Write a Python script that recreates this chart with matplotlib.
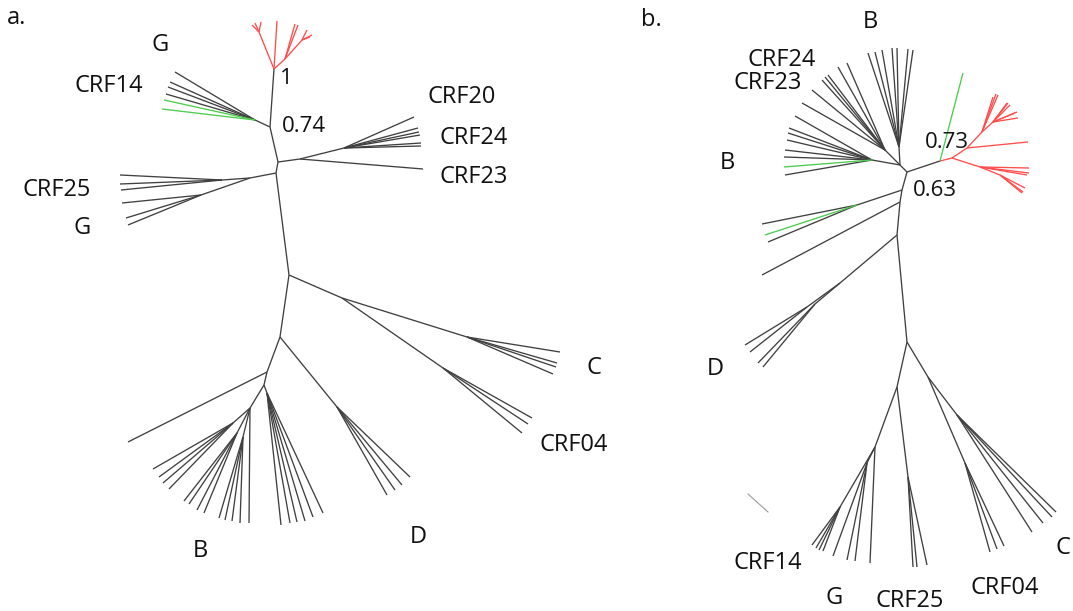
import matplotlib
matplotlib.use("Agg")
import matplotlib.pyplot as plt

# ---------------- DATA: unrooted tree layouts (node, parent, x, y) ----------------
# Tree a
a_backbone = [("a_r", None, 274, 69), ("a_074", "a_r", 270, 127), ("a_n2", "a_074", 278, 162),
              ("a_n3", "a_n2", 276, 173), ("a_n4", "a_n3", 289, 275), ("a_n5", "a_n4", 280, 337),
              ("a_n6", "a_n5", 267, 372), ("a_n7", "a_n6", 264, 385)]
a_red = [("ar1", "a_r", 259, 32), ("", "ar1", 252, 25), ("", "ar1", 255, 23), ("", "ar1", 261, 22),
         ("", "a_r", 277, 21),
         ("ar2", "a_r", 285, 59), ("", "ar2", 295, 24), ("", "ar2", 298, 25),
         ("ar3", "ar2", 302, 40), ("", "ar3", 307, 30), ("", "ar3", 312, 35), ("", "ar3", 310, 37)]
a_g14 = [("ag", "a_074", 255, 120), ("", "ag", 175, 72), ("", "ag", 170, 82), ("", "ag", 168, 87),
         ("", "ag", 166, 94)]
a_g14_green = [("", "ag", 164, 100), ("", "ag", 162, 109)]
a_crf20 = [("ac", "a_n2", 300, 159), ("", "ac", 423, 169), ("act", "ac", 344, 148),
           ("", "act", 414, 117), ("", "act", 418, 128), ("", "act", 419, 132), ("", "act", 420, 135),
           ("", "act", 421, 143), ("", "act", 421, 146)]
a_crf25 = [("al", "a_n3", 250, 178), ("alu", "al", 222, 180), ("", "alu", 120, 175), ("", "alu", 120, 184),
           ("", "alu", 121, 190), ("all", "al", 201, 195), ("", "all", 122, 203), ("", "all", 126, 218),
           ("", "all", 128, 225)]
a_c04 = [("acc", "a_n4", 342, 298), ("acC", "acc", 467, 337), ("", "acC", 560, 352), ("", "acC", 557, 363),
         ("", "acC", 556, 367), ("", "acC", 553, 374), ("ac4", "acc", 443, 368), ("", "ac4", 532, 418),
         ("", "ac4", 528, 424), ("", "ac4", 522, 433)]
a_d = [("ad", "a_n5", 337, 407), ("", "ad", 410, 477), ("", "ad", 402, 485), ("", "ad", 395, 490),
       ("", "ad", 387, 495)]
a_b = [("", "a_n6", 128, 442), ("abl", "a_n7", 250, 408),
       ("abl1", "abl", 233, 423), ("", "abl1", 153, 469), ("", "abl1", 159, 477), ("", "abl1", 163, 483),
       ("", "abl1", 169, 489),
       ("abl2", "abl", 237, 433), ("", "abl2", 184, 501), ("", "abl2", 189, 504), ("", "abl2", 197, 510),
       ("", "abl2", 204, 513),
       ("abl3", "abl", 243, 437), ("", "abl3", 219, 518), ("", "abl3", 225, 520), ("", "abl3", 232, 521),
       ("", "abl3", 240, 523), ("", "abl", 249, 523),
       ("abr", "a_n7", 267, 393), ("", "abr", 281, 525), ("", "abr", 290, 523), ("", "abr", 297, 522),
       ("", "abr", 305, 521), ("", "abr", 313, 517), ("", "abr", 323, 513)]

# Tree b
b_backbone = [("b_c", None, 900, 165), ("b_n1", "b_c", 907, 172), ("b_n2", "b_n1", 902, 190),
              ("b_n3", "b_n2", 900, 202), ("b_n4", "b_n3", 897, 235), ("b_n5", "b_n4", 907, 342),
              ("b_073", "b_n1", 940, 161)]
b_green_long = [("", "b_073", 963, 73)]
b_red = [("bra", "b_073", 952, 158), ("brb", "bra", 967, 148), ("", "brb", 1028, 142),
         ("brc", "brb", 982, 132), ("", "brc", 993, 97), ("", "brc", 996, 94), ("", "brc", 998, 95),
         ("brd", "brc", 993, 122), ("", "brd", 1007, 103), ("", "brd", 1008, 103), ("", "brd", 1010, 105),
         ("", "brd", 1017, 112), ("", "brd", 1018, 118), ("", "brd", 1015, 113),
         ("bre", "bra", 980, 167), ("", "bre", 1029, 168), ("", "bre", 1029, 173), ("", "bre", 1027, 175),
         ("brf", "bre", 1000, 175), ("", "brf", 1025, 188), ("", "brf", 1023, 192), ("", "brf", 1022, 193)]
b_btop = [("bbt", "b_c", 899, 147), ("", "bbt", 868, 53), ("", "bbt", 875, 52), ("", "bbt", 882, 50),
          ("", "bbt", 892, 48), ("", "bbt", 897, 48), ("", "bbt", 908, 49), ("", "bbt", 913, 50)]
b_crf2423 = [("bu", "b_c", 885, 150), ("", "bu", 847, 63), ("", "bu", 838, 67), ("", "bu", 828, 75),
             ("", "bu", 825, 77), ("", "bu", 822, 80), ("", "bu", 812, 90), ("", "bu", 802, 103)]
b_bleft = [("bh", "b_c", 872, 160), ("", "bh", 795, 116), ("", "bh", 789, 128), ("", "bh", 788, 133),
           ("", "bh", 787, 140), ("", "bh", 785, 150), ("", "bh", 784, 157), ("", "bh", 785, 175)]
b_bleft_green = [("", "bh", 784, 167)]
b_mid = [("bl", "b_n2", 857, 205), ("", "bl", 762, 224), ("", "bl", 768, 242), ("", "b_n3", 762, 275)]
b_mid_green = [("", "bl", 765, 235)]
b_d = [("bd", "b_n4", 840, 283), ("bdt", "bd", 807, 307), ("", "bdt", 745, 345), ("", "bdt", 750, 352),
       ("bdu", "bd", 815, 304), ("", "bdu", 758, 363), ("", "bdu", 763, 367)]
b_g14 = [("bg", "b_n5", 897, 387), ("bgt", "bg", 875, 447), ("bgu", "bgt", 840, 507),
         ("", "bgu", 812, 545), ("", "bgu", 816, 548), ("", "bgu", 819, 550), ("", "bgu", 823, 551),
         ("bgv", "bgt", 867, 463), ("", "bgv", 833, 556), ("", "bgv", 847, 560), ("", "bgv", 855, 561),
         ("", "bgt", 870, 563)]
b_crf25 = [("b25", "bg", 908, 477), ("", "b25", 913, 567), ("", "b25", 917, 567), ("", "b25", 927, 565)]
b_c04 = [("bcc", "b_n5", 928, 377), ("b04", "bcc", 965, 463), ("", "b04", 990, 552), ("", "b04", 997, 549),
         ("", "b04", 1004, 546), ("bC", "bcc", 957, 415), ("", "bC", 1032, 532), ("", "bC", 1043, 523),
         ("", "bC", 1052, 517), ("", "bC", 1056, 512)]
b_stray_x = [748, 768]
b_stray_y = [494, 512]

# Labels
label_text = ["a.", "G", "CRF14", "CRF20", "CRF24", "CRF23", "CRF25", "G", "C", "CRF04", "D", "B",
              "b.", "B", "CRF24", "CRF23", "B", "D", "CRF14", "G", "CRF25", "CRF04", "C"]
label_x = [17, 160, 109, 462, 474, 474, 57, 82, 594, 574, 418, 200,
           651, 870, 782, 768, 727, 715, 768, 834, 910, 1005, 1063]
label_y = [18, 45, 86, 97, 138, 177, 190, 228, 368, 445, 537, 551,
           20, 22, 60, 83, 163, 369, 563, 598, 601, 588, 548]
support_text = ["1", "0.74", "0.73", "0.63"]
support_x = [286, 304, 947, 935]
support_y = [78, 127, 143, 191]

# ---------------- DRAWING ----------------
BLACK = "#404040"
RED = "#ff4d4d"
GREEN = "#4ccc4c"

fig = plt.figure(figsize=(10.73, 6.11), dpi=100)
ax = fig.add_axes([0, 0, 1, 1])
ax.set_xlim(0, 1073)
ax.set_ylim(611, 0)
ax.axis("off")

pos = {}
def draw(table, color, lw=0.95):
    for name, parent, x, y in table:
        if parent is not None:
            px, py = pos[parent]
            ax.plot([px, x], [py, y], color=color, lw=lw, solid_capstyle="butt")
        if name:
            pos[name] = (x, y)

draw(a_backbone, BLACK)
draw(a_red, RED)
draw(a_g14, BLACK)
draw(a_g14_green, GREEN)
draw(a_crf20, BLACK)
draw(a_crf25, BLACK)
draw(a_c04, BLACK)
draw(a_d, BLACK)
draw(a_b, BLACK)

draw(b_backbone, BLACK)
draw(b_green_long, GREEN)
draw(b_red, RED)
draw(b_btop, BLACK)
draw(b_crf2423, BLACK)
draw(b_bleft, BLACK)
draw(b_bleft_green, GREEN)
draw(b_mid, BLACK)
draw(b_mid_green, GREEN)
draw(b_d, BLACK)
draw(b_g14, BLACK)
draw(b_crf25, BLACK)
draw(b_c04, BLACK)
ax.plot(b_stray_x, b_stray_y, color="#9a9a9a", lw=0.8)

for t, x, y in zip(label_text, label_x, label_y):
    ax.text(x, y, t, fontsize=17, family="Open Sans", color="#111111", ha="center", va="center")
for t, x, y in zip(support_text, support_x, support_y):
    ax.text(x, y, t, fontsize=16, family="Open Sans", color="#111111", ha="center", va="center")

fig.savefig("out.png", dpi=100, facecolor="white")
